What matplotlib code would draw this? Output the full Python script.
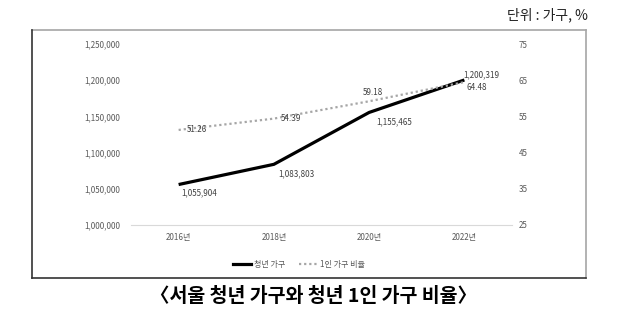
import matplotlib
matplotlib.use('Agg')
import matplotlib.pyplot as plt
from matplotlib.lines import Line2D
from matplotlib.ticker import FuncFormatter

plt.rcParams['font.family'] = ['Noto Sans CJK KR', 'DejaVu Sans']

years = ['2016년', '2018년', '2020년', '2022년']
youth_households = [1055904, 1083803, 1155465, 1200319]
single_ratio = [51.26, 54.39, 59.18, 64.48]

# label offsets in points (dx, dy)
hh_offsets = [(15, -6), (16, -7), (18, -6.5), (12, 4)]
ratio_offsets = [(13, 0), (12, 0), (3, 6.5), (9, -4)]

W, H = 630, 328
fig = plt.figure(figsize=(W / 100, H / 100), dpi=100)

def fx(px): return px / W
def fy(py): return 1 - py / H

ax = fig.add_axes([fx(131), fy(225), fx(512) - fx(131), fy(44) - fy(225)])
ax2 = ax.twinx()
x = list(range(len(years)))

ax.plot(x, youth_households, color='black', lw=2.3, solid_capstyle='butt', zorder=3)
ax2.plot(x, single_ratio, color='#a6a6a6', lw=1.6, ls=(0, (1, 1.3)), zorder=2)

ax.set_xlim(-0.5, 3.5)
ax.set_ylim(1000000, 1250000)
ax.set_yticks(range(1000000, 1250001, 50000))
ax.yaxis.set_major_formatter(FuncFormatter(lambda v, p: f'{int(v):,}'))
ax2.set_ylim(25, 75)
ax2.set_yticks(range(25, 76, 10))
ax.set_xticks(x)
ax.set_xticklabels(years)

for a in (ax, ax2):
    for s in a.spines.values():
        s.set_visible(False)
    a.tick_params(length=0, labelsize=5.8, colors='#595959')
ax.spines['bottom'].set_visible(True)
ax.spines['bottom'].set_color('#d9d9d9')
ax.spines['bottom'].set_linewidth(0.8)
ax.tick_params(axis='y', pad=8)
ax.tick_params(axis='x', pad=6)
ax2.tick_params(axis='y', pad=5)

for xi, v, (dx, dy) in zip(x, youth_households, hh_offsets):
    ax.annotate(f'{v:,}', (xi, v), xytext=(dx, dy), textcoords='offset points',
                ha='center', va='center', fontsize=5.8, color='#404040')
for xi, v, (dx, dy) in zip(x, single_ratio, ratio_offsets):
    ax2.annotate(f'{v:.2f}', (xi, v), xytext=(dx, dy), textcoords='offset points',
                 ha='center', va='center', fontsize=5.8, color='#404040')

# outer frame
fig.add_artist(Line2D([fx(32), fx(586)], [fy(30), fy(30)], color='#a6a6a6', lw=1.2))
fig.add_artist(Line2D([fx(586), fx(586)], [fy(30), fy(278)], color='#a6a6a6', lw=1.2))
fig.add_artist(Line2D([fx(32), fx(32)], [fy(30), fy(278)], color='#333333', lw=1.2))
fig.add_artist(Line2D([fx(32), fx(586)], [fy(278), fy(278)], color='#333333', lw=1.2))

handles = [Line2D([], [], color='black', lw=2.3),
           Line2D([], [], color='#a6a6a6', lw=1.6, ls=(0, (1, 1.3)))]
fig.legend(handles, ['청년 가구', '1인 가구 비율'], loc='center',
           bbox_to_anchor=(fx(299), fy(264)), ncol=2, frameon=False,
           fontsize=5.8, handlelength=2.3, handletextpad=0.3, columnspacing=1.8,
           labelcolor='#595959')

fig.text(fx(588), fy(15), '단위 : 가구, %', ha='right', va='center', fontsize=10, color='#222222')
fig.text(fx(313), fy(296), '〈서울 청년 가구와 청년 1인 가구 비율〉', ha='center', va='center',
         fontsize=14, fontweight='bold', color='black')

fig.savefig('out.png', dpi=100)
